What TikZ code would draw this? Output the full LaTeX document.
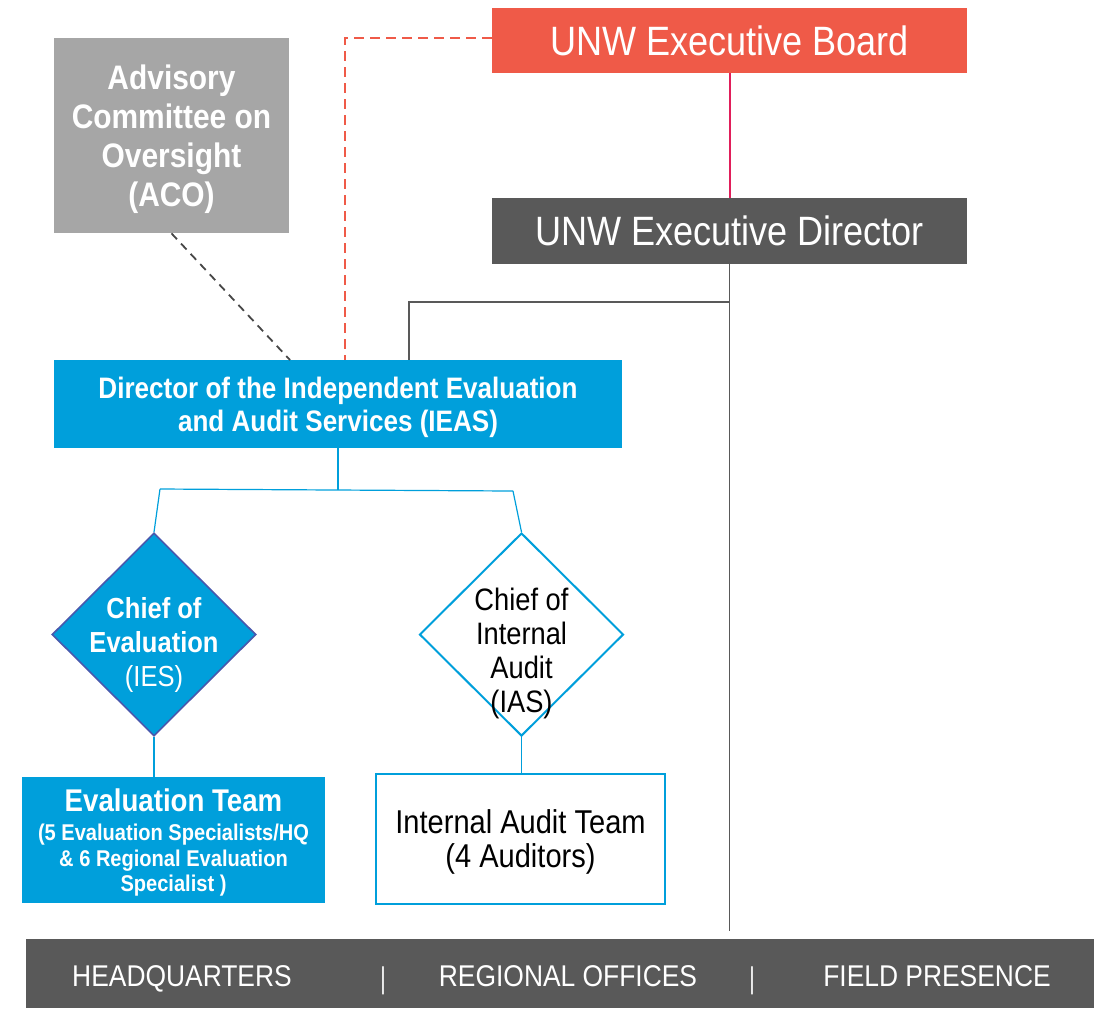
\documentclass[tikz,border=0pt]{standalone}
\usepackage{fontspec}
\setmainfont{Liberation Sans}[FakeStretch=0.88]
\usetikzlibrary{shapes.geometric, positioning, calc}
\definecolor{unwred}{RGB}{239, 90, 72}
\definecolor{unwdark}{RGB}{89, 89, 89}
\definecolor{acogrey}{RGB}{166, 166, 166}
\definecolor{ieasblue}{RGB}{0, 159, 219}
\definecolor{iesborder}{RGB}{72, 88, 172}
\definecolor{boardline}{RGB}{225, 30, 90}

\begin{document}
\begin{tikzpicture}[x=0.5pt, y=-0.5pt,
    box/.style={rectangle, inner sep=0pt, align=center, text=white},
    chief/.style={diamond, inner sep=0pt, minimum width=102pt, minimum height=101.5pt},
    bartext/.style={text=white, anchor=base, font=\fontsize{15}{18}\selectfont},
    greyline/.style={draw=unwdark, line width=0.6pt},
    blueline/.style={draw=ieasblue, line width=0.6pt}]
    \useasboundingbox (0,0) rectangle (1102,1009);

    % Top of the chain
    \node[box, fill=unwred, minimum width=237.5pt, minimum height=32.5pt,
          font=\fontsize{20.5}{24}\selectfont] (board) at (729.5, 40.5) {UNW Executive Board};
    \node[box, fill=unwdark, minimum width=237.5pt, minimum height=33pt,
          font=\fontsize{20.5}{24}\selectfont] (exdir) at (729.5, 231) {UNW Executive Director};
    \node[box, fill=acogrey, minimum width=117.5pt, minimum height=97.5pt, text depth=0pt,
          font=\fontsize{17}{19.5}\selectfont\bfseries] (aco) at (171.5, 135.5)
          {Advisory\\Committee on\\Oversight\\(ACO)};
    \node[box, fill=ieasblue, minimum width=284pt, minimum height=44pt, text depth=0pt,
          font=\fontsize{14.8}{16.5}\selectfont\bfseries] (ieas) at (338, 404)
          {Director of the Independent Evaluation\\and Audit Services (IEAS)};

    % Chiefs
    \node[chief, fill=ieasblue, draw=iesborder, line width=0.8pt] (ces) at (154, 634.5) {};
    \node[align=center, text=white, inner sep=0pt,
          font=\fontsize{14.5}{17}\selectfont] (cestext) at (154, 645)
          {\textbf{Chief of}\\\textbf{Evaluation}\\(IES)};
    \node[chief, fill=white, draw=ieasblue, line width=1pt] (cias) at (521.5, 634.5) {};
    \node[align=center, inner sep=0pt,
          font=\fontsize{15.5}{17}\selectfont] (ciastext) at (521.5, 653)
          {Chief of\\Internal\\Audit\\(IAS)};

    % Teams
    \node[box, fill=ieasblue, minimum width=151.5pt, minimum height=63pt, text depth=0pt,
          font=\fontsize{11.4}{12.75}\selectfont\bfseries] (evteam) at (173.5, 840)
          {{\fontsize{15.7}{18}\selectfont Evaluation Team}\\[2pt](5 Evaluation Specialists/HQ\\\& 6 Regional Evaluation\\Specialist )};
    \node[box, fill=white, text=black, draw=ieasblue, line width=1pt, text depth=0pt,
          minimum width=144.5pt, minimum height=65pt,
          font=\fontsize{16.5}{17}\selectfont] (iat) at (520.5, 839)
          {Internal Audit Team\\(4 Auditors)};

    % Presence bar
    \node[box, fill=unwdark, minimum width=534pt, minimum height=34.5pt] (bar) at (560, 973.5) {};
    \node[bartext] (hq) at (182, 986) {HEADQUARTERS};
    \node[bartext, font=\fontsize{15}{18}\selectfont\addfontfeature{FakeStretch=0.7}] (sepa) at (383, 988) {|};
    \node[bartext] (ro) at (568, 986) {REGIONAL OFFICES};
    \node[bartext, font=\fontsize{15}{18}\selectfont\addfontfeature{FakeStretch=0.7}] (sepb) at (752, 988) {|};
    \node[bartext] (fp) at (937, 986) {FIELD PRESENCE};

    % Connection points
    \coordinate (branch) at (729.5, 302);
    \coordinate (fieldend) at (729.5, 931);
    \coordinate (ieasdir) at (409, 360);
    \coordinate (ieasboard) at (345, 360);
    \coordinate (ieasaco) at (290, 360);
    \coordinate (split) at (338, 490);
    \coordinate (splitl) at (160, 489);
    \coordinate (splitr) at (513, 491);

    % Lines
    \draw[greyline] (exdir) -- (fieldend);
    \draw[greyline] (branch) -| (ieasdir);
    \draw[draw=boardline, line width=1pt] (board.south) -- (exdir.north);
    \draw[draw=unwred, line width=0.9pt, dash pattern=on 5pt off 3pt] (board.west |- 0,38) -| (ieasboard);
    \draw[draw=unwdark!80!black, line width=0.9pt, dash pattern=on 4pt off 3pt] (aco.south) -- (ieasaco);
    \draw[blueline] (ieas) -- (split);
    \draw[blueline] (splitl) -- (splitr);
    \draw[blueline] (splitl) -- (ces.north);
    \draw[blueline] (splitr) -- (cias.north);
    \draw[blueline] (ces.south) -- (ces.south |- evteam.north);
    \draw[blueline] (cias.south) -- (cias.south |- iat.north);
\end{tikzpicture}
\end{document}
